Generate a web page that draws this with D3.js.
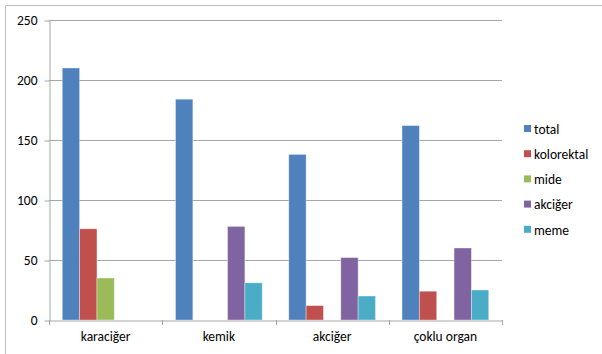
<!DOCTYPE html>
<html>
<head>
<meta charset="utf-8">
<script src="https://cdn.jsdelivr.net/npm/d3@7"></script>
<style>
  html, body { margin: 0; padding: 0; background: #fff; }
  svg { display: block; font-family: Carlito, Calibri, Lato, "Open Sans", sans-serif; }
</style>
</head>
<body>
<svg id="chart" width="602" height="354"></svg>
<script>
// Categories (metastasis sites) and one value list per series
const categories = ["karaciğer", "kemik", "akciğer", "çoklu organ"];
const seriesNames = ["total", "kolorektal", "mide", "akciğer", "meme"];
const total      = [210, 184, 138, 162];
const kolorektal = [76, 0, 12, 24];
const mide       = [35, 0, 0, 0];
const akciger    = [0, 78, 52, 60];
const meme       = [0, 31, 20, 25];
const yTicks     = [0, 50, 100, 150, 200, 250];
const colors     = ["#4F81BD", "#C0504D", "#9BBB59", "#8064A2", "#4BACC6"];

const seriesValues = [total, kolorektal, mide, akciger, meme];
const rows = categories.map((c, i) => ({
  cat: c,
  vals: seriesNames.map((s, j) => ({ key: s, value: seriesValues[j][i], color: colors[j] }))
}));

const svg = d3.select("#chart");
const plot = { left: 49, right: 502, top: 20, bottom: 320 };
const labelFont = "Carlito, Calibri, Lato, sans-serif";

// outer chart frame (only top and left edges fall inside the view)
svg.append("path")
  .attr("d", "M5.5,360 V5.5 H610")
  .attr("fill", "none").attr("stroke", "#BDBDBD").attr("stroke-width", 1);

const x = d3.scaleBand().domain(categories).range([plot.left, plot.right]);
const xInner = d3.scaleBand().domain(seriesNames)
  .range([0, x.bandwidth()]).paddingOuter(0.765).paddingInner(0);
const y = d3.scaleLinear().domain([0, 250]).range([plot.bottom, plot.top]);

// horizontal gridlines
svg.append("g").selectAll("line").data(yTicks.filter(t => t > 0)).join("line")
  .attr("x1", plot.left).attr("x2", plot.right)
  .attr("y1", d => Math.round(y(d)) + 0.5).attr("y2", d => Math.round(y(d)) + 0.5)
  .attr("stroke", "#A6A6A6").attr("stroke-width", 1);

// y axis
const yAxis = svg.append("g").attr("transform", `translate(${plot.left + 0.5},0.5)`)
  .call(d3.axisLeft(y).tickValues(yTicks).tickSize(5).tickPadding(7).tickSizeOuter(0));
yAxis.select(".domain").attr("stroke", "#A6A6A6");
yAxis.selectAll(".tick line").attr("stroke", "#A6A6A6");
yAxis.selectAll(".tick text").attr("font-size", 13.5).attr("fill", "#000")
  .attr("font-family", labelFont);

// bars
const groups = svg.append("g").selectAll("g").data(rows).join("g")
  .attr("transform", d => `translate(${x(d.cat)},0)`);
groups.selectAll("rect").data(d => d.vals.filter(v => v.value > 0)).join("rect")
  .attr("x", d => xInner(d.key))
  .attr("width", xInner.bandwidth())
  .attr("y", d => y(d.value))
  .attr("height", d => y(0) - y(d.value))
  .attr("fill", d => d.color)
  .attr("stroke", "rgba(255,255,255,0.45)").attr("stroke-width", 0.8);

// x axis
const xAxis = svg.append("g").attr("transform", `translate(0,${plot.bottom + 0.5})`)
  .call(d3.axisBottom(x).tickSize(0).tickPadding(11).tickSizeOuter(0));
xAxis.select(".domain").attr("stroke", "#A6A6A6");
xAxis.selectAll(".tick text").attr("font-size", 13.5).attr("fill", "#000")
  .attr("font-family", labelFont);
// category separator ticks
svg.append("g").selectAll("line")
  .data(categories.map(c => x(c)).concat([plot.right]))
  .join("line")
  .attr("x1", d => Math.round(d) + 0.5).attr("x2", d => Math.round(d) + 0.5)
  .attr("y1", plot.bottom).attr("y2", plot.bottom + 5)
  .attr("stroke", "#A6A6A6");

// legend
const legend = svg.append("g").attr("transform", "translate(524,129)");
const li = legend.selectAll("g").data(seriesNames).join("g")
  .attr("transform", (d, i) => `translate(0,${i * 25.2})`);
li.append("rect").attr("x", 0).attr("y", -4).attr("width", 7).attr("height", 7)
  .attr("fill", (d, i) => colors[i]);
li.append("text").attr("x", 10).attr("y", 0).attr("dy", "0.35em")
  .attr("font-size", 13.5).attr("fill", "#000").text(d => d);
</script>
</body>
</html>
